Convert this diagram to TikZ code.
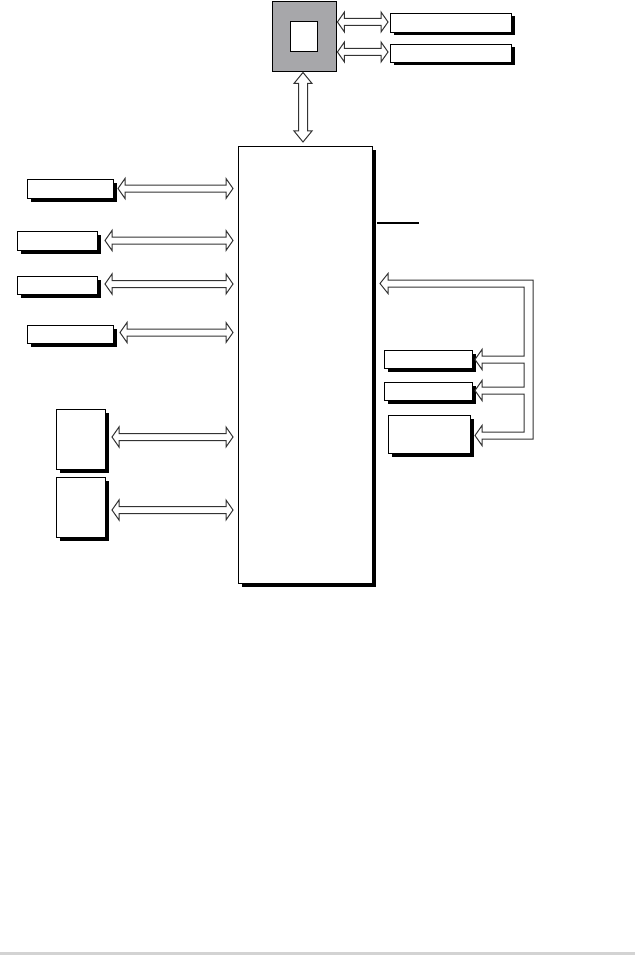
\documentclass[tikz,border=0pt]{standalone}
\usetikzlibrary{calc,shadows}
\definecolor{cpugray}{HTML}{A7A7AA}
\definecolor{arr}{HTML}{333333}
\definecolor{bottomgray}{HTML}{D3D3D3}
\newcommand\hfat[2]{\draw[fat] let \p1=#1, \p2=#2 in
  (\x1,\y1) -- (\x1+7pt,\y1+10pt) -- (\x1+7pt,\y1+3.5pt) -- (\x2-7pt,\y1+3.5pt) -- (\x2-7pt,\y1+10pt) --
  (\x2,\y1) -- (\x2-7pt,\y1-10pt) -- (\x2-7pt,\y1-3.5pt) -- (\x1+7pt,\y1-3.5pt) -- (\x1+7pt,\y1-10pt) -- cycle;}
\newcommand\vfat[2]{\draw[fat] let \p1=#1, \p2=#2 in
  (\x1,\y1) -- (\x1+9pt,\y1-11pt) -- (\x1+4.5pt,\y1-11pt) -- (\x1+4.5pt,\y2+11pt) -- (\x1+9pt,\y2+11pt) --
  (\x1,\y2) -- (\x1-9pt,\y2+11pt) -- (\x1-4.5pt,\y2+11pt) -- (\x1-4.5pt,\y1-11pt) -- (\x1-9pt,\y1-11pt) -- cycle;}
\begin{document}
\begin{tikzpicture}[x=1pt,y=-1pt,
  box/.style={draw=black, line width=0.9pt, fill=white, inner sep=0pt, outer sep=0pt,
    drop shadow={shadow xshift=3.5pt, shadow yshift=-3.5pt, fill=black, opacity=1}},
  bigbox/.style={box, drop shadow={shadow xshift=4pt, shadow yshift=-4pt, fill=black, opacity=1}},
  fat/.style={draw=arr, line width=1pt, fill=white, line join=miter}]
\useasboundingbox (0,0) rectangle (635,955);
\fill[bottomgray] (0,952) rectangle (635,955);

% CPU
\node[draw=black, line width=0.9pt, fill=cpugray, inner sep=0pt, minimum width=64pt, minimum height=70pt] (cpu) at (304,36) {};
\node[draw=black, line width=0.9pt, fill=white, inner sep=0pt, minimum width=27pt, minimum height=30pt] (cpuin) at (303.5,36) {};
\node[box, minimum width=121pt, minimum height=19pt] (t1) at (450.5,22.5) {};
\node[box, minimum width=121pt, minimum height=18pt] (t2) at (450.5,53) {};

% main chip
\node[bigbox, minimum width=134pt, minimum height=437pt] (main) at (305,364.5) {};

% left boxes
\node[box, minimum width=86pt, minimum height=19pt] (A) at (70,188.5) {};
\node[box, minimum width=80pt, minimum height=19pt] (B) at (57,240.5) {};
\node[box, minimum width=80pt, minimum height=18pt] (C) at (57,285) {};
\node[box, minimum width=86pt, minimum height=18pt] (D) at (70,334) {};
\node[box, minimum width=49pt, minimum height=60pt] (E) at (80.5,439) {};
\node[box, minimum width=49pt, minimum height=60pt] (F) at (80.5,507) {};

% right boxes
\node[box, minimum width=88pt, minimum height=18pt] (R1) at (428,359) {};
\node[box, minimum width=88pt, minimum height=18pt] (R2) at (428,391) {};
\node[box, minimum width=82pt, minimum height=38pt] (R3) at (429,434) {};

% connectors
\hfat{($(cpu.east)+(1,-14)$)}{($(t1.west)+(-2,0)$)}
\hfat{($(cpu.east)+(1,16)$)}{($(t2.west)+(-2,0)$)}
\vfat{($(cpu.south)+(-1,1)$)}{($(main.north)+(-2,-4)$)}

\hfat{($(A.east)+(5,0)$)}{($(main.west |- A)+(-5,0)$)}
\hfat{($(B.east)+(8,0)$)}{($(main.west |- B)+(-5,0)$)}
\hfat{($(C.east)+(8,-1)$)}{($(main.west |- C)+(-5,-1)$)}
\hfat{($(D.east)+(7,-1.5)$)}{($(main.west |- D)+(-5,-1.5)$)}
\hfat{($(E.east)+(7,-2)$)}{($(main.west |- E)+(-5,-2)$)}
\hfat{($(F.east)+(7,3)$)}{($(main.west |- F)+(-5,3)$)}

\coordinate (lend) at (419,223);
\draw[line width=1.6pt] (main.east |- lend) ++(5,0) -- (lend);

\draw[fat] (388,280) -- (388,273.5) -- (380,283.5) -- (388,293.5) -- (388,287) -- (524,287)
  -- (524,356) -- (482,356) -- (482,349.5) -- (475,359.5) -- (482,369.5) -- (482,363) -- (524,363)
  -- (524,387) -- (482,387) -- (482,380.5) -- (475,390.5) -- (482,400.5) -- (482,394) -- (524,394)
  -- (524,432) -- (482,432) -- (482,425.5) -- (475,435.5) -- (482,445.5) -- (482,439) -- (533,439)
  -- (533,280) -- cycle;
\end{tikzpicture}
\end{document}
